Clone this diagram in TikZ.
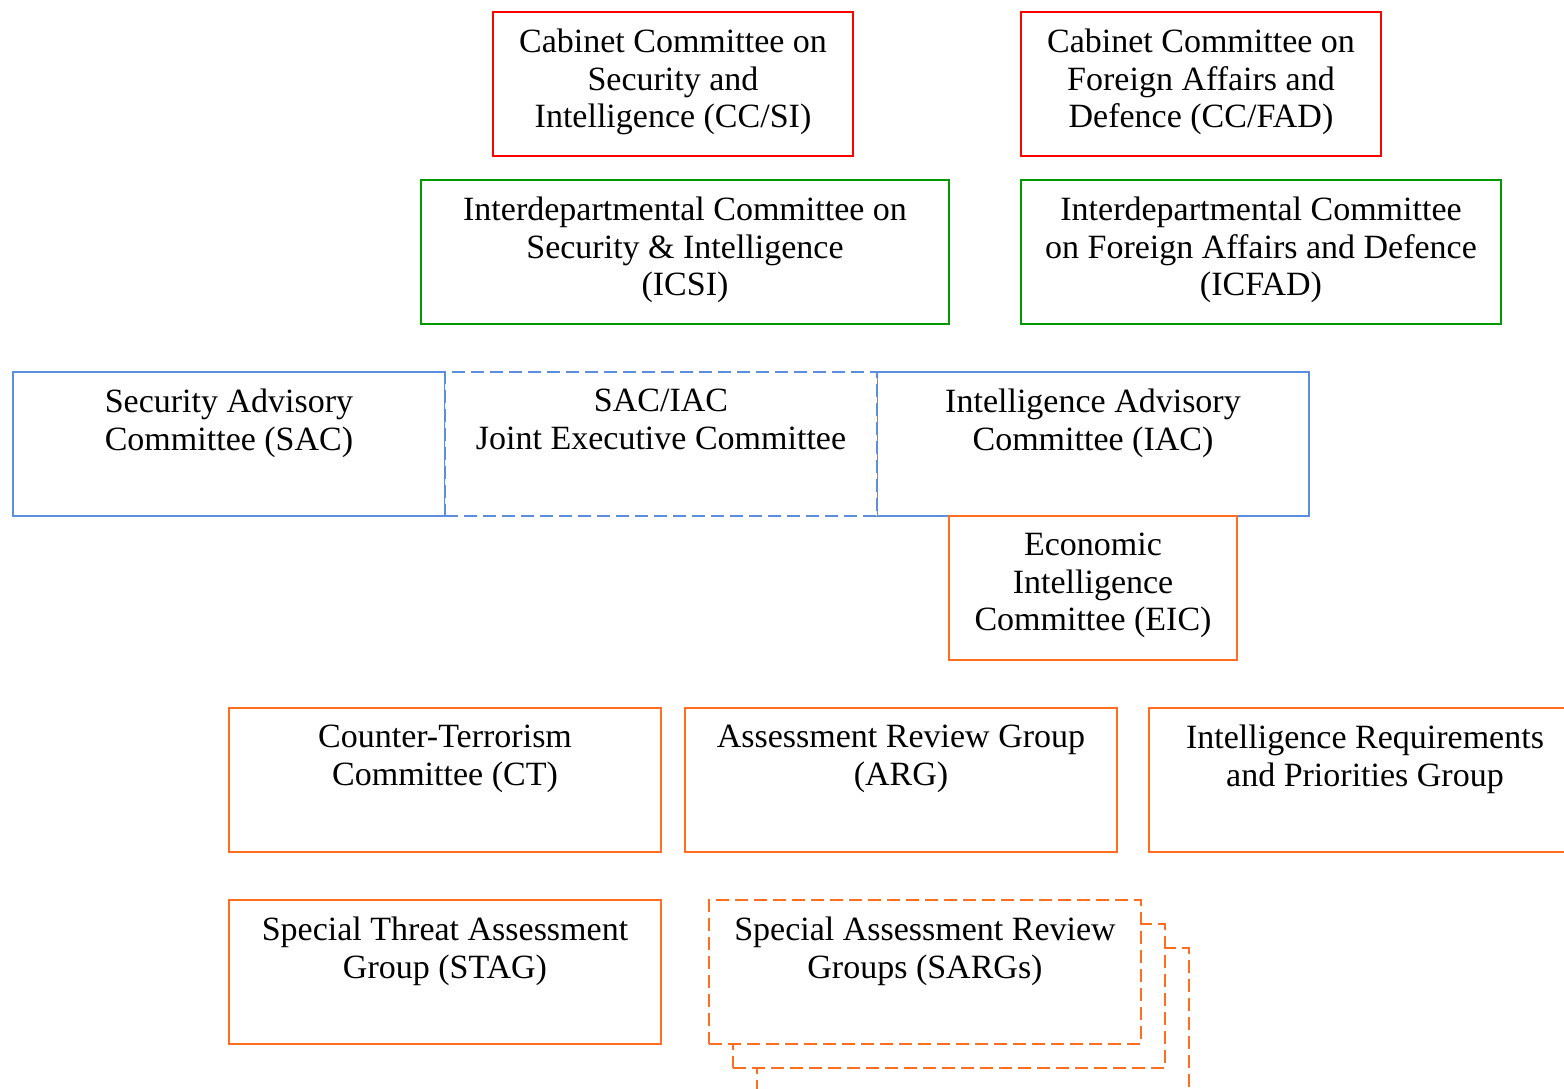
\documentclass[tikz,border=0pt]{standalone}
\usepackage{fontspec}
\setmainfont{Liberation Serif}
\usetikzlibrary{positioning}
\usepackage{xcolor}
\definecolor{ccred}{RGB}{255,0,0}
\definecolor{icgreen}{RGB}{0,153,0}
\definecolor{acblue}{RGB}{91,142,220}
\definecolor{grporange}{RGB}{255,110,30}

\begin{document}
\begin{tikzpicture}[x=1pt,y=-1pt,
    box/.style={draw=#1,line width=2pt,minimum height=144pt,inner sep=0pt,anchor=north west},
    dbox/.style={box=#1,dash pattern=on 13pt off 6pt,fill=white},
    txt/.style={anchor=north,align=center,inner sep=0pt,font=\fontsize{34}{37.5}\selectfont},
]
\useasboundingbox (0,0) rectangle (1564,1088);
% cabinet committees
\node[box=ccred,minimum width=360pt] (ccsi)  at (492,11)  {};
\node[box=ccred,minimum width=360pt] (ccfad) at (1020,11) {};
\node[txt] (ccsi-t)  at ([yshift=-18pt]ccsi.north)  {Cabinet Committee on\\Security and\\Intelligence (CC/SI)};
\node[txt] (ccfad-t) at ([yshift=-18pt]ccfad.north) {Cabinet Committee on\\Foreign Affairs and\\Defence (CC/FAD)};
% interdepartmental committees
\node[box=icgreen,minimum width=528pt] (icsi)  at (420,179)  {};
\node[box=icgreen,minimum width=480pt] (icfad) at (1020,179) {};
\node[txt] (icsi-t)  at ([yshift=-18pt]icsi.north)  {Interdepartmental Committee on\\Security \& Intelligence\\(ICSI)};
\node[txt] (icfad-t) at ([yshift=-18pt]icfad.north) {Interdepartmental Committee\\on Foreign Affairs and Defence\\(ICFAD)};
% advisory committees
\node[box=acblue,minimum width=432pt] (sac) at (12,371)  {};
\node[box=acblue,minimum width=432pt] (iac) at (876,371) {};
\node[dbox=acblue,minimum width=432pt] (jec) at (444,371) {};
\node[txt] (sac-t) at ([yshift=-18pt]sac.north) {Security Advisory\\Committee (SAC)};
\node[txt] (jec-t) at ([yshift=-18pt]jec.north) {SAC/IAC\\Joint Executive Committee};
\node[txt] (iac-t) at ([yshift=-18pt]iac.north) {Intelligence Advisory\\Committee (IAC)};
\node[box=grporange,fill=white,minimum width=288pt] (eic) at (948,515) {};
\node[txt] (eic-t) at ([yshift=-18pt]eic.north) {Economic\\Intelligence\\Committee (EIC)};
% groups
\node[box=grporange,minimum width=432pt] (ct)   at (228,707)  {};
\node[box=grporange,minimum width=432pt] (arg)  at (684,707)  {};
\node[box=grporange,minimum width=432pt] (irpg) at (1148,707) {};
\node[txt] (ct-t)   at ([yshift=-18pt]ct.north)   {Counter-Terrorism\\Committee (CT)};
\node[txt] (arg-t)  at ([yshift=-18pt]arg.north)  {Assessment Review Group\\(ARG)};
\node[txt] (irpg-t) at ([yshift=-18pt]irpg.north) {Intelligence Requirements\\and Priorities Group};
\node[box=grporange,minimum width=432pt] (stag) at (228,899) {};
\node[txt] (stag-t) at ([yshift=-18pt]stag.north) {Special Threat Assessment\\Group (STAG)};
\node[dbox=grporange,minimum width=432pt] (sarg3) at (756,947) {};
\node[dbox=grporange,minimum width=432pt] (sarg2) at (732,923) {};
\node[dbox=grporange,minimum width=432pt] (sarg1) at (708,899) {};
\node[txt] (sarg-t) at ([yshift=-18pt]sarg1.north) {Special Assessment Review\\Groups (SARGs)};
\end{tikzpicture}
\end{document}
